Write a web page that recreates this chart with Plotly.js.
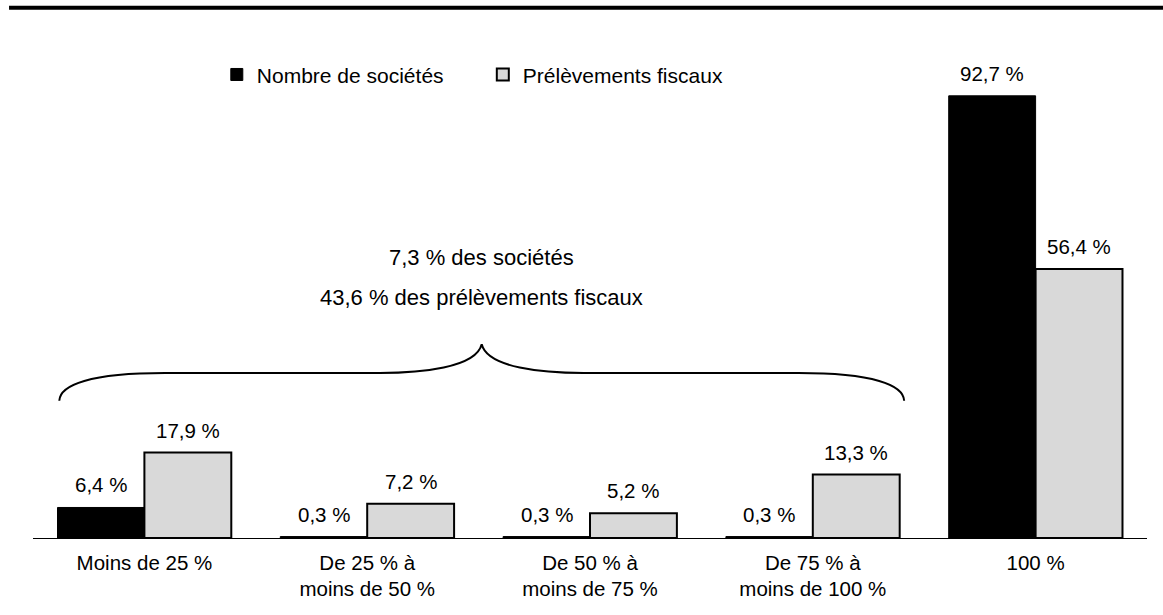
<!DOCTYPE html>
<html>
<head>
<meta charset="utf-8">
<script src="https://cdn.plot.ly/plotly-3.0.1.min.js"></script>
<style>html,body{margin:0;padding:0;background:#fff;}#chart{width:1163px;height:615px;}</style>
</head>
<body>
<div id="chart"></div>
<script>
var categories = ["Moins de 25 %", "De 25 % à<br>moins de 50 %", "De 50 % à<br>moins de 75 %", "De 75 % à<br>moins de 100 %", "100 %"];
var seriesNames = ["Nombre de sociétés", "Prélèvements fiscaux"];
var nombreSocietes = [6.4, 0.3, 0.3, 0.3, 92.7];
var prelevementsFiscaux = [17.9, 7.2, 5.2, 13.3, 56.4];
var braceTexts = ["7,3 % des sociétés", "43,6 % des prélèvements fiscaux"];

var FONT = "Liberation Sans, Arial, sans-serif";
var idx = categories.map(function(_, i){ return i; });

var traces = [
  {type: "bar", name: seriesNames[0], x: idx, y: nombreSocietes,
   marker: {color: "#000000", line: {color: "#000000", width: 1}}, hoverinfo: "skip"},
  {type: "bar", name: seriesNames[1], x: idx, y: prelevementsFiscaux,
   marker: {color: "#d9d9d9", line: {color: "#000000", width: 2}}, hoverinfo: "skip"}
];

function fmt(v){ return v.toFixed(1).replace(".", ",") + " %"; }

var annotations = [];
var half = 0.195;
[nombreSocietes, prelevementsFiscaux].forEach(function(arr, s){
  arr.forEach(function(v, i){
    annotations.push({x: i + (s === 0 ? -half : half), y: v, xref: "x", yref: "y",
      text: fmt(v), showarrow: false, yanchor: "bottom", yshift: 9,
      font: {family: FONT, size: 20.5, color: "#000"}});
  });
});
annotations.push({x: 1.514, y: 58.9, xref: "x", yref: "y", text: braceTexts[0], showarrow: false,
  font: {family: FONT, size: 22, color: "#000"}});
annotations.push({x: 1.514, y: 50.5, xref: "x", yref: "y", text: braceTexts[1], showarrow: false,
  font: {family: FONT, size: 22, color: "#000"}});

var shapes = [
  {type: "path", xref: "x", yref: "y",
   path: "M -0.382,28.78 C -0.379,32.08 -0.244,34.59 0.092,34.59 L 1.057,34.59 C 1.237,34.59 1.488,35.64 1.514,40.61 C 1.540,35.64 1.791,34.59 1.971,34.59 L 2.936,34.59 C 3.272,34.59 3.407,32.08 3.410,28.78",
   line: {color: "#000", width: 2}},
  {type: "line", xref: "paper", yref: "paper", x0: -0.0215, x1: 1.015, y0: 1.1115, y1: 1.1115,
   line: {color: "#000", width: 4}}
];

var layout = {
  width: 1163, height: 615,
  margin: {l: 33, r: 16, t: 61, b: 77, pad: 0},
  paper_bgcolor: "#fff", plot_bgcolor: "#fff",
  font: {family: FONT, size: 20, color: "#000"},
  barmode: "group", bargap: 0.22, bargroupgap: 0,
  separators: ", ",
  showlegend: true,
  legend: {orientation: "h", x: 0.165, xanchor: "left", y: 1.014, yanchor: "top",
    font: {family: FONT, size: 21, color: "#000"}, entrywidth: 221, entrywidthmode: "pixels",
    bgcolor: "rgba(0,0,0,0)", borderwidth: 0},
  xaxis: {type: "linear", range: [-0.5, 4.5], tickvals: idx, ticktext: categories,
    showline: true, linecolor: "#000", linewidth: 1, showgrid: false, zeroline: false,
    ticks: "", ticklabelstandoff: 6, tickfont: {family: FONT, size: 20.5, color: "#000"}, fixedrange: true},
  yaxis: {range: [0, 100], visible: false, showgrid: false, zeroline: false, fixedrange: true},
  annotations: annotations,
  shapes: shapes
};

Plotly.newPlot("chart", traces, layout, {displayModeBar: false, staticPlot: true});
</script>
</body>
</html>
